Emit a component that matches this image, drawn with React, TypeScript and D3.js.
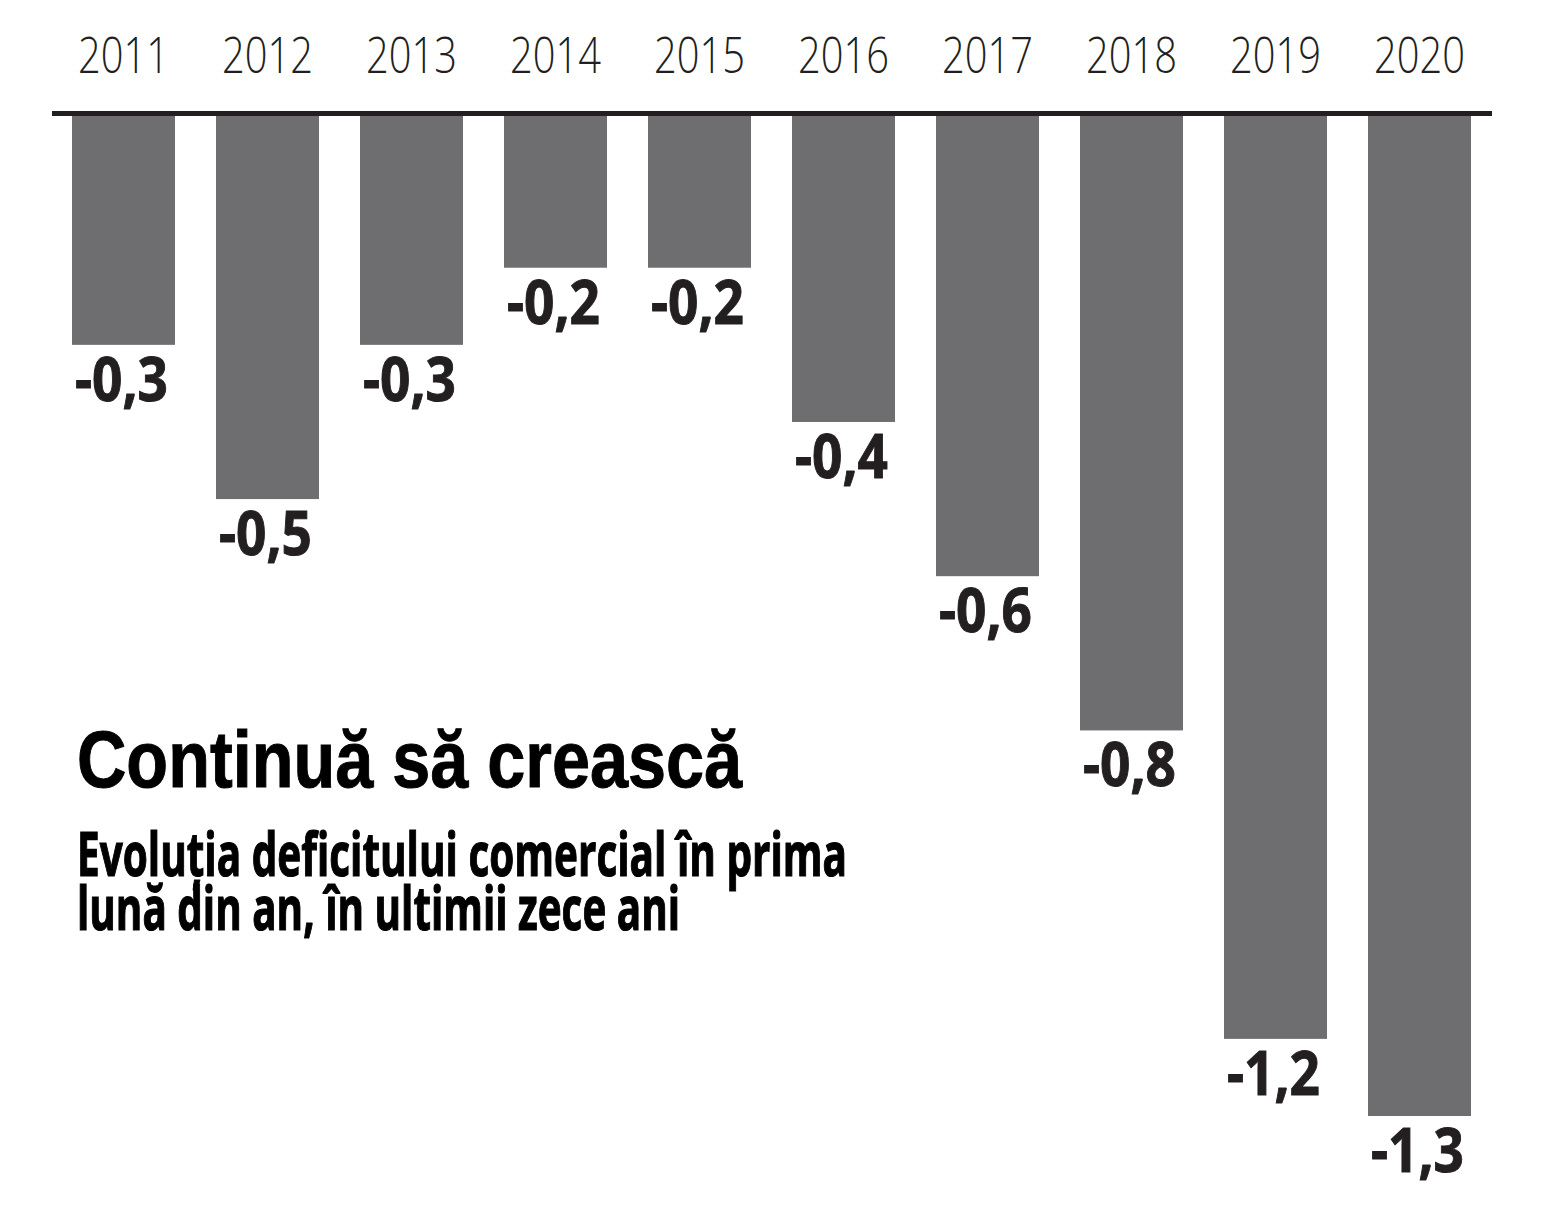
import React from "react";
import * as d3 from "d3";

const years = ["2011", "2012", "2013", "2014", "2015", "2016", "2017", "2018", "2019", "2020"];
const values = [-0.3, -0.5, -0.3, -0.2, -0.2, -0.4, -0.6, -0.8, -1.2, -1.3];
const labels = ["-0,3", "-0,5", "-0,3", "-0,2", "-0,2", "-0,4", "-0,6", "-0,8", "-1,2", "-1,3"];
const title = "Continuă să crească";
const subtitleLines = ["Evoluția deficitului comercial în prima", "lună din an, în ultimii zece ani"];

const W = 1553;
const H = 1209;

export default function App() {
  const x = d3
    .scaleBand<string>()
    .domain(years)
    .range([51.5, 1491.5])
    .paddingInner(41 / 144)
    .paddingOuter(20.5 / 144);
  const y = d3.scaleLinear().domain([0, -1.3]).range([113.5, 1116]);
  const bw = x.bandwidth();

  return (
    <svg
      width={W}
      height={H}
      viewBox={`0 0 ${W} ${H}`}
      style={{ position: "absolute", left: 0, top: 0, background: "#fff" }}
    >
      <rect x={0} y={0} width={W} height={H} fill="#fff" />
      {years.map((yr, i) => (
        <rect
          key={"b" + yr}
          x={x(yr)}
          y={y(0)}
          width={bw}
          height={y(values[i]) - y(0)}
          fill="#6e6d70"
        />
      ))}
      <line x1={52} x2={1492} y1={113.5} y2={113.5} stroke="#231f20" strokeWidth={5} />
      {years.map((yr) => (
        <text
          key={"y" + yr}
          x={(x(yr) as number) + bw / 2}
          y={73}
          textAnchor="middle"
          fontFamily="'Open Sans', 'DejaVu Sans', sans-serif"
          fontWeight={300}
          fontSize={49}
          fill="#231f20"
          textLength={91}
          lengthAdjust="spacingAndGlyphs"
        >
          {yr}
        </text>
      ))}
      {years.map((yr, i) => (
        <text
          key={"v" + yr}
          x={(x(yr) as number) + bw / 2 - 2}
          y={y(values[i]) + 56}
          textAnchor="middle"
          fontFamily="'Open Sans', 'DejaVu Sans', sans-serif"
          fontWeight={700}
          fontSize={60}
          fill="#231f20"
          stroke="#231f20"
          strokeWidth={1}
          textLength={93}
          lengthAdjust="spacingAndGlyphs"
        >
          {labels[i]}
        </text>
      ))}
      <text
        x={77}
        y={787}
        fontFamily="'Liberation Sans', Arial, Helvetica, sans-serif"
        fontWeight="bold"
        fontSize={80}
        fill="#000"
        stroke="#000"
        strokeWidth={1}
        textLength={665}
        lengthAdjust="spacingAndGlyphs"
      >
        {title}
      </text>
      <text
        x={77}
        y={876}
        fontFamily="'Open Sans', 'DejaVu Sans', sans-serif"
        fontWeight={700}
        fontSize={60}
        fill="#000"
        stroke="#000"
        strokeWidth={1.2}
        textLength={770}
        lengthAdjust="spacingAndGlyphs"
      >
        {subtitleLines[0]}
      </text>
      <text
        x={77}
        y={930}
        fontFamily="'Open Sans', 'DejaVu Sans', sans-serif"
        fontWeight={700}
        fontSize={60}
        fill="#000"
        stroke="#000"
        strokeWidth={1.2}
        textLength={603}
        lengthAdjust="spacingAndGlyphs"
      >
        {subtitleLines[1]}
      </text>
    </svg>
  );
}
